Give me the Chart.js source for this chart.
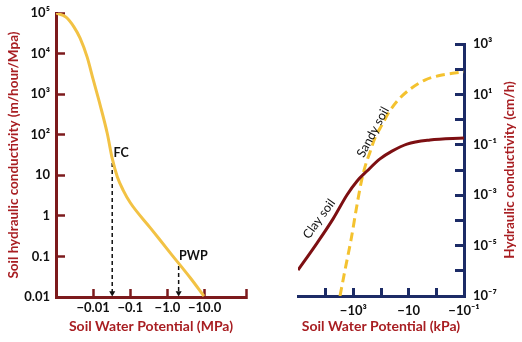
<!DOCTYPE html>
<html>
<head>
<meta charset="utf-8">
<script src="https://cdn.jsdelivr.net/npm/chart.js@4.4.0/dist/chart.umd.min.js"></script>
<style>
  html, body { margin: 0; padding: 0; background: #fff; }
  #wrap { position: relative; width: 522px; height: 342px; }
  #leftBox { position: absolute; left: 0; top: 0; width: 260px; height: 342px; }
  #rightBox { position: absolute; left: 260px; top: 0; width: 262px; height: 342px; }
</style>
</head>
<body>
<div id="wrap">
  <div id="leftBox"><canvas id="leftChart"></canvas></div>
  <div id="rightBox"><canvas id="rightChart"></canvas></div>
</div>
<script>
// Left panel: conductivity vs water potential (x holds -psi in MPa)
const leftPsi = [0.001, 0.00186, 0.00306, 0.00445, 0.0069, 0.01, 0.0155, 0.024, 0.0326, 0.0446, 0.065, 0.1, 0.35, 1.2, 4.2, 9.6];
const leftK = [100000, 79000, 45000, 24000, 8150, 2300, 530, 107, 26, 9.2, 4.2, 2.1, 0.5, 0.121, 0.029, 0.0105];
const fcLine = { psi: 0.0326, k: 20 };
const pwpLine = { psi: 2.0, k: 0.058 };
const leftXTicks = [0.01, 0.1, 1, 10, 130];
const leftXLabels = ['−0.01', '−0.1', '−1.0', '−10.0', ''];
const leftYTicks = [0.01, 0.1, 1, 10, 100, 1000, 10000, 100000];
const leftYLabels = ['0.01', '0.1', '1', '10', '10²', '10³', '10⁴', '10⁵'];

// Right panel: clay vs sandy soil (x holds -psi in kPa, axis reversed)
const clayPsi = [100000, 20500, 5400, 1700, 740, 320, 109, 40, 11.5, 1.7, 0.1];
const clayK = [1.07e-6, 1.26e-5, 1.15e-4, 1.02e-3, 3.6e-3, 9.1e-3, 0.0275, 0.056, 0.107, 0.155, 0.186];
const sandyPsi = [3030, 2000, 1216, 738, 528, 379, 250, 165, 92, 51, 24, 9, 2.6, 0.62, 0.1];
const sandyK = [1e-7, 1.07e-6, 1.66e-5, 4.1e-4, 3.0e-3, 0.0132, 0.051, 0.186, 0.62, 2.0, 6.0, 16, 37, 59, 78];
const rightXTicks = [10000, 1000, 100, 10, 1, 0.1];
const rightXLabels = ['', '−10³', '', '−10', '', '−10⁻¹'];
const rightYTicks = [1e-7, 1e-6, 1e-5, 1e-4, 1e-3, 1e-2, 1e-1, 1, 10, 100, 1000];
const rightYLabels = ['10⁻⁷', '', '10⁻⁵', '', '10⁻³', '', '10⁻¹', '', '10¹', '', '10³'];

const FONT = 'Lato, "Noto Sans", sans-serif';
const titleRed = '#a81e22';
const maroon = '#7c1a1c';
const navy = '#1c2b66';

function pts(xs, ys) {
    return xs.map((x, i) => ({ x: x, y: ys[i] }));
}

function fixTicks(values) {
    return function(scale) {
        scale.ticks = values.map(v => ({ value: v }));
    };
}

// draws small text notes at data positions, plus an optional side title
const textNotes = {
    id: 'textNotes',
    afterDatasetsDraw(chart, args, opts) {
        const ctx = chart.ctx;
        const xs = chart.scales.x, ys = chart.scales.y;
        (opts.items || []).forEach(n => {
            ctx.save();
            ctx.translate(xs.getPixelForValue(n.x), ys.getPixelForValue(n.y));
            ctx.rotate((n.angle || 0) * Math.PI / 180);
            ctx.font = n.font;
            ctx.fillStyle = n.color || '#111';
            ctx.textAlign = 'center';
            ctx.textBaseline = 'middle';
            ctx.fillText(n.text, 0, 0);
            ctx.restore();
        });
        if (opts.sideTitle) {
            const a = chart.chartArea;
            ctx.save();
            ctx.translate(chart.width - 12, (a.top + a.bottom) / 2);
            ctx.rotate(-Math.PI / 2);
            ctx.font = 'bold 13.5px ' + FONT;
            ctx.fillStyle = titleRed;
            ctx.textAlign = 'center';
            ctx.textBaseline = 'middle';
            ctx.fillText(opts.sideTitle, 0, 0);
            ctx.restore();
        }
    }
};

const tickFont = { family: FONT, size: 13, weight: 'bold' };
const xTitleFont = { family: FONT, size: 14, weight: 'bold' };
const yTitleFont = { family: FONT, size: 13.5, weight: 'bold' };

// ---- left chart
new Chart(document.getElementById('leftChart'), {
    type: 'line',
    data: {
        datasets: [
            {
                data: pts(leftPsi, leftK),
                borderColor: '#f2c244',
                borderWidth: 3,
                pointRadius: 0,
                cubicInterpolationMode: 'monotone'
            },
            {
                data: pts([fcLine.psi, fcLine.psi], [fcLine.k, 0.0125]),
                borderColor: '#111',
                borderWidth: 1.5,
                borderDash: [4, 3],
                pointRadius: [0, 3.5],
                pointStyle: 'triangle',
                pointRotation: 180,
                pointBackgroundColor: '#111',
                pointBorderWidth: 0
            },
            {
                data: pts([pwpLine.psi, pwpLine.psi], [pwpLine.k, 0.0125]),
                borderColor: '#111',
                borderWidth: 1.5,
                borderDash: [4, 3],
                pointRadius: [0, 3.5],
                pointStyle: 'triangle',
                pointRotation: 180,
                pointBackgroundColor: '#111',
                pointBorderWidth: 0
            }
        ]
    },
    options: {
        responsive: true,
        maintainAspectRatio: false,
        animation: false,
        layout: { padding: { left: 0, top: 13, right: 14, bottom: 0 } },
        plugins: {
            legend: { display: false },
            tooltip: { enabled: false },
            textNotes: {
                items: [
                    { text: 'FC', x: 0.057, y: 36, font: 'bold 12.5px ' + FONT },
                    { text: 'PWP', x: 5.0, y: 0.1, font: 'bold 12.5px ' + FONT }
                ]
            }
        },
        scales: {
            x: {
                type: 'logarithmic',
                min: 0.001,
                max: 130,
                afterBuildTicks: fixTicks(leftXTicks),
                afterFit: function(scale) { scale.height = 45; },
                grid: { drawOnChartArea: false, tickLength: -8, tickColor: maroon, tickWidth: 2.5 },
                border: { color: maroon, width: 3 },
                ticks: {
                    color: '#111',
                    font: tickFont,
                    padding: 11,
                    maxRotation: 0,
                    autoSkip: false,
                    callback: (v, i) => leftXLabels[i]
                },
                title: {
                    display: true,
                    text: 'Soil Water Potential (MPa)',
                    color: titleRed,
                    font: xTitleFont,
                    padding: { top: 0, bottom: 7 }
                }
            },
            y: {
                type: 'logarithmic',
                min: 0.01,
                max: 100000,
                afterBuildTicks: fixTicks(leftYTicks),
                afterFit: function(scale) {
                    scale.width = 56;
                    scale.paddingTop = 0;
                    scale.paddingBottom = 0;
                },
                grid: { drawOnChartArea: false, tickLength: -9, tickColor: maroon, tickWidth: 2.5 },
                border: { color: maroon, width: 3 },
                ticks: {
                    color: '#111',
                    font: tickFont,
                    padding: 15,
                    autoSkip: false,
                    callback: (v, i) => leftYLabels[i]
                },
                title: {
                    display: true,
                    text: 'Soil hydraulic conductivity (m/hour/Mpa)',
                    color: titleRed,
                    font: yTitleFont,
                    padding: { top: 6, bottom: 0 }
                }
            }
        }
    },
    plugins: [textNotes]
});

// ---- right chart
new Chart(document.getElementById('rightChart'), {
    type: 'line',
    data: {
        datasets: [
            {
                data: pts(clayPsi, clayK),
                borderColor: '#7d0f12',
                borderWidth: 3,
                pointRadius: 0,
                cubicInterpolationMode: 'monotone'
            },
            {
                data: pts(sandyPsi, sandyK),
                borderColor: '#f4c22f',
                borderWidth: 3,
                borderDash: [9, 5],
                pointRadius: 0,
                cubicInterpolationMode: 'monotone'
            }
        ]
    },
    options: {
        responsive: true,
        maintainAspectRatio: false,
        animation: false,
        layout: { padding: { left: 38, top: 44, right: 0, bottom: 0 } },
        plugins: {
            legend: { display: false },
            tooltip: { enabled: false },
            textNotes: {
                items: [
                    { text: 'Sandy soil', x: 195, y: 0.32, angle: -62, font: '12.5px ' + FONT },
                    { text: 'Clay soil', x: 17400, y: 1.15e-4, angle: -54, font: '12.5px ' + FONT }
                ],
                sideTitle: 'Hydraulic conductivity (cm/h)'
            }
        },
        scales: {
            x: {
                type: 'logarithmic',
                reverse: true,
                min: 0.1,
                max: 100000,
                afterBuildTicks: fixTicks(rightXTicks),
                afterFit: function(scale) { scale.height = 46; },
                grid: { drawOnChartArea: false, tickLength: -8, tickColor: navy, tickWidth: 3 },
                border: { color: navy, width: 3 },
                ticks: {
                    color: '#111',
                    font: tickFont,
                    padding: 15,
                    maxRotation: 0,
                    autoSkip: false,
                    callback: (v, i) => rightXLabels[i]
                },
                title: {
                    display: true,
                    text: 'Soil Water Potential (kPa)',
                    color: titleRed,
                    font: xTitleFont,
                    padding: { top: 0, bottom: 7 }
                }
            },
            y: {
                type: 'logarithmic',
                position: 'right',
                min: 1e-7,
                max: 1000,
                afterBuildTicks: fixTicks(rightYTicks),
                afterFit: function(scale) { scale.width = 58; },
                grid: { drawOnChartArea: false, tickLength: -9, tickColor: navy, tickWidth: 3 },
                border: { color: navy, width: 3 },
                ticks: {
                    color: '#111',
                    font: tickFont,
                    padding: 18,
                    autoSkip: false,
                    callback: (v, i) => rightYLabels[i]
                }
            }
        }
    },
    plugins: [textNotes]
});
</script>
</body>
</html>
